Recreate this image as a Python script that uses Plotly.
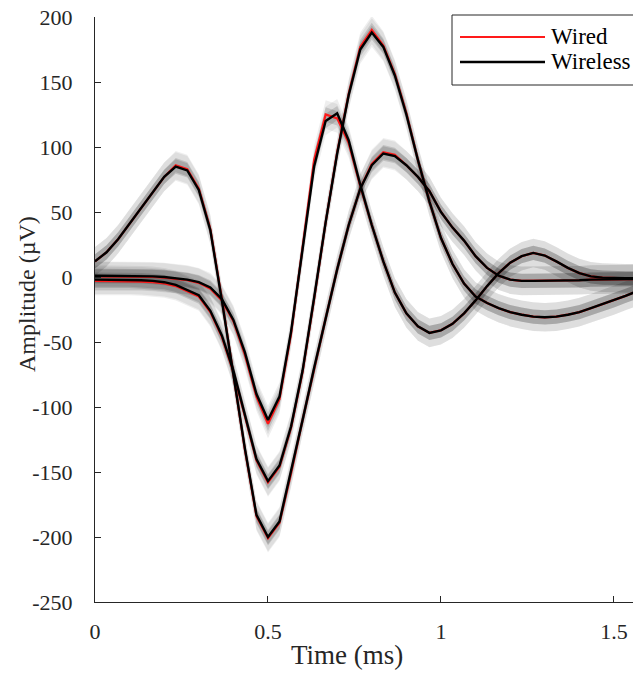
import plotly.graph_objects as go

# ---- data (sampled at 30 kHz, time in ms) ----
n_samples = 49
time_ms = [i / 30.0 for i in range(n_samples)]

wireless_unit1 = [12, 19, 29, 41, 53, 65, 77, 85, 82, 67, 36, -18, -75, -132, -183, -200,
                  -188, -150, -110, -70, -32, 6, 40, 68, 86, 95, 93, 86, 77, 66, 50, 38,
                  28, 16, 7, 1, -2, -3, -3, -3, -3, -2.5, -2.5, -2, -2, -2, -1.5, -1.5, -1.5]
wireless_unit2 = [-2, -2, -2, -2, -2.5, -3, -4, -6, -10, -14, -26, -45, -72, -105, -140, -157,
                  -145, -115, -72, -16, 42, 95, 140, 175, 188, 177, 155, 125, 90, 58, 30, 10,
                  -5, -15, -20, -24, -27, -29, -30.5, -31, -30.5, -29, -27, -24, -21, -18, -14.5, -11, -8]
wireless_unit3 = [1, 1, 1, 1, 1, 0.5, 0, -1, -2, -4, -8, -17, -33, -58, -90, -110,
                  -92, -42, 20, 85, 120, 126, 105, 71, 40, 12, -12, -28, -38, -43, -41, -36,
                  -28, -18, -7, 3, 11, 16, 18.5, 16.5, 12, 7, 3, 0.5, -0.5, -1, -1, -1, -1]

wired_unit1 = [12, 19, 29, 41, 53, 65, 77, 86, 83, 68, 37, -17, -75, -133, -184, -201,
               -189, -151, -110, -70, -32, 6, 40, 68, 87, 96, 94, 86, 77, 66, 50, 38,
               28, 16, 7, 1, -2, -3, -3, -3, -3, -2.5, -2.5, -2, -2, -2, -1.5, -1.5, -1.5]
wired_unit2 = [-3, -3, -3, -3, -3.5, -4, -5, -7, -11, -15, -27, -46, -73, -106, -141, -158,
               -146, -116, -73, -17, 42, 96, 141, 177, 190, 178, 156, 126, 90, 58, 30, 10,
               -5, -15, -20, -24, -27, -29, -30.5, -31, -30.5, -29, -27, -24, -21, -18, -14.5, -11, -8]
wired_unit3 = [0.5, 0.5, 0.5, 0.5, 0.5, 0, -0.5, -1.5, -2.5, -4.5, -9, -18, -34, -60, -92, -113,
               -94, -44, 22, 90, 125, 122, 103, 70, 40, 12, -12, -28, -38, -43, -41, -36,
               -28, -18, -7, 3, 11, 16, 18.5, 16.5, 12, 7, 3, 0.5, -0.5, -1, -1, -1, -1]

band_outer = 11.0   # µV half-width of light shaded band
band_inner = 5.5    # µV half-width of darker shaded band

x_range = [0, 1.555]
y_range = [-250, 200]
x_ticks = [0, 0.5, 1, 1.5]
x_tick_text = ["0", "0.5", "1", "1.5"]
y_ticks = [-250, -200, -150, -100, -50, 0, 50, 100, 150, 200]
y_tick_text = ["-250", "-200", "-150", "-100", "-50", "0", "50", "100", "150", "200"]

wired = [wired_unit1, wired_unit2, wired_unit3]
wireless = [wireless_unit1, wireless_unit2, wireless_unit3]

fig = go.Figure()


def add_band(vals, half, color):
    up = [v + half for v in vals]
    lo = [v - half for v in vals]
    fig.add_trace(go.Scatter(
        x=time_ms + time_ms[::-1], y=up + lo[::-1], fill="toself",
        fillcolor=color, line=dict(width=0), mode="lines",
        hoverinfo="skip", showlegend=False))


for series in wired + wireless:
    add_band(series, band_outer, "rgba(0,0,0,0.065)")
for series in wired + wireless:
    add_band(series, band_inner, "rgba(0,0,0,0.13)")

for series in wired:
    fig.add_trace(go.Scatter(x=time_ms, y=series, mode="lines",
                             line=dict(color="#ff1a1a", width=2.2), showlegend=False))
for series in wireless:
    fig.add_trace(go.Scatter(x=time_ms, y=series, mode="lines",
                             line=dict(color="#000000", width=2.4), showlegend=False))

FONT = "Liberation Serif"

# page offset (body margin) and plot area in figure pixels
OFF = 8
W, H = 625, 663
L = 95 - OFF
T = 17 - OFF
B = H - (602 - OFF)
pw, ph = W - L, H - T - B


def px(page_x):
    return (page_x - OFF - L) / pw


def py(page_y):
    return (H - B - (page_y - OFF)) / ph


shapes = [
    dict(type="rect", xref="paper", yref="paper", x0=px(452), x1=px(700), y0=py(85), y1=py(15),
         line=dict(color="#262626", width=1), fillcolor="white", layer="above"),
    dict(type="line", xref="paper", yref="paper", x0=px(460), x1=px(545), y0=py(37), y1=py(37),
         line=dict(color="#ff1a1a", width=2.2), layer="above"),
    dict(type="line", xref="paper", yref="paper", x0=px(460), x1=px(545), y0=py(62), y1=py(62),
         line=dict(color="#000000", width=2.4), layer="above"),
]

annotations = [
    dict(text="Wired", xref="paper", yref="paper", x=px(549), y=py(37), xanchor="left",
         yanchor="middle", showarrow=False, font=dict(family=FONT, size=23, color="black")),
    dict(text="Wireless", xref="paper", yref="paper", x=px(549), y=py(62), xanchor="left",
         yanchor="middle", showarrow=False, font=dict(family=FONT, size=23, color="black")),
    dict(text="Time (ms)", xref="paper", yref="paper", x=px(347), y=py(655), xanchor="center",
         yanchor="middle", showarrow=False, font=dict(family=FONT, size=27, color="#262626")),
    dict(text="Amplitude (µV)", xref="paper", yref="paper", x=px(27), y=py(294), xanchor="center",
         yanchor="middle", textangle=-90, showarrow=False,
         font=dict(family=FONT, size=24, color="#262626")),
]

fig.update_layout(
    width=W, height=H,
    margin=dict(l=L, r=0, t=T, b=B, pad=0, autoexpand=False),
    paper_bgcolor="white", plot_bgcolor="white",
    showlegend=False,
    shapes=shapes, annotations=annotations,
    font=dict(family=FONT, size=22, color="#262626"),
    xaxis=dict(range=x_range, tickvals=x_ticks, ticktext=x_tick_text, ticks="inside",
               ticklen=6, tickcolor="#262626", showline=True, linecolor="#262626",
               linewidth=1, showgrid=False, zeroline=False, ticklabelstandoff=10,
               automargin=False, ticklabeloverflow="allow",
               tickfont=dict(family=FONT, size=22, color="#262626")),
    yaxis=dict(range=y_range, tickvals=y_ticks, ticktext=y_tick_text, ticks="inside",
               ticklen=6, tickcolor="#262626", showline=True, linecolor="#262626",
               linewidth=1, showgrid=False, zeroline=False, ticklabelstandoff=17,
               automargin=False, ticklabeloverflow="allow",
               tickfont=dict(family=FONT, size=22, color="#262626")),
)

fig.write_html("out.html")
